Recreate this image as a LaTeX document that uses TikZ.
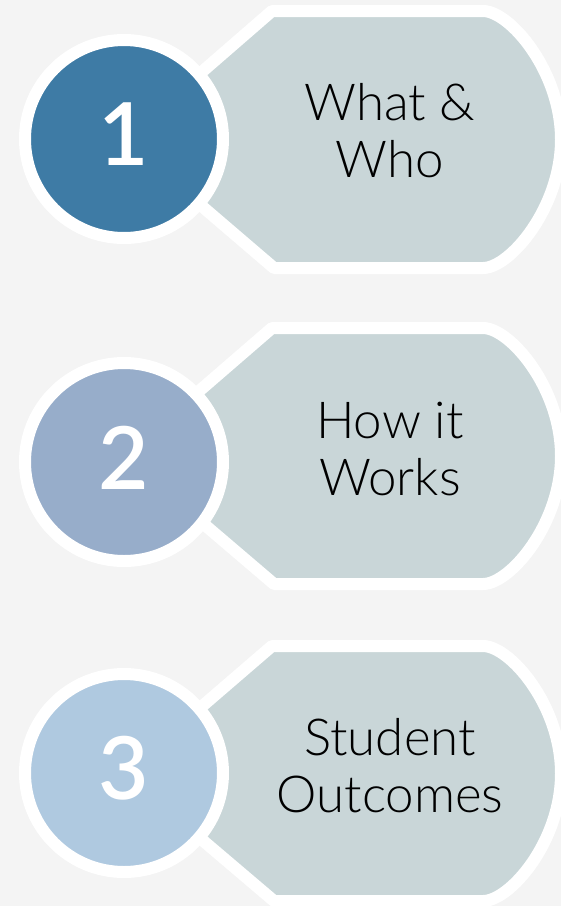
\documentclass[tikz,border=0pt]{standalone}
\usepackage{fontspec}
\newfontfamily\lblfont{Lato Light}
\newfontfamily\numfont{Lato Semibold}
\definecolor{bgcol}{HTML}{F4F4F4}
\definecolor{tagcol}{HTML}{C9D6D8}
\definecolor{numA}{HTML}{3E7BA5}
\definecolor{numB}{HTML}{97ADCA}
\definecolor{numC}{HTML}{AFC9E0}
\tikzset{
  tagshape/.style={fill=tagcol, draw=white, line width=12pt, line join=round},
  numdisc/.style={draw=white, line width=12pt},
  numtext/.style={text=white, font=\numfont\fontsize{87}{87}\selectfont, inner sep=0pt},
  lbltext/.style={text=black, font=\lblfont\fontsize{51}{57}\selectfont, inner sep=0pt, anchor=base}
}
\newcommand{\tagitem}[6]{%
  % #1 name, #2 top, #3 bottom, #4 circle centre y, #5 colour, #6 digit
  \pgfmathsetmacro{\cy}{(#2+#3)/2}
  \path[tagshape] (124,\cy) -- (272,#2) -- (483,#2)
    .. controls (510,#2) and (561,\cy-68) .. (561,\cy)
    .. controls (561,\cy+68) and (510,#3) .. (483,#3)
    -- (274,#3) -- cycle;
  \node[numdisc, circle, fill=#5, minimum size=198pt, inner sep=0pt] (disc#1) at (124,#4) {};
  \node[numtext] (num#1) at (124,#4-4.5) {#6};
}
\begin{document}
\begin{tikzpicture}[x=1pt,y=-1pt]
  \fill[bgcol] (0,0) rectangle (561,906);
  \useasboundingbox (0,0) rectangle (561,906);
  \tagitem{a}{11}{268}{139}{numA}{1}
  \node[lbltext] (la1) at (390,120) {What \&};
  \node[lbltext] (la2) at (390,177) {Who};
  \tagitem{b}{328}{584}{462}{numB}{2}
  \node[lbltext] (lb1) at (390,438) {How it};
  \node[lbltext] (lb2) at (390,495) {Works};
  \tagitem{c}{646}{901}{773}{numC}{3}
  \node[lbltext] (lc1) at (390,755) {Student};
  \node[lbltext] (lc2) at (390,812) {Outcomes};
\end{tikzpicture}
\end{document}
